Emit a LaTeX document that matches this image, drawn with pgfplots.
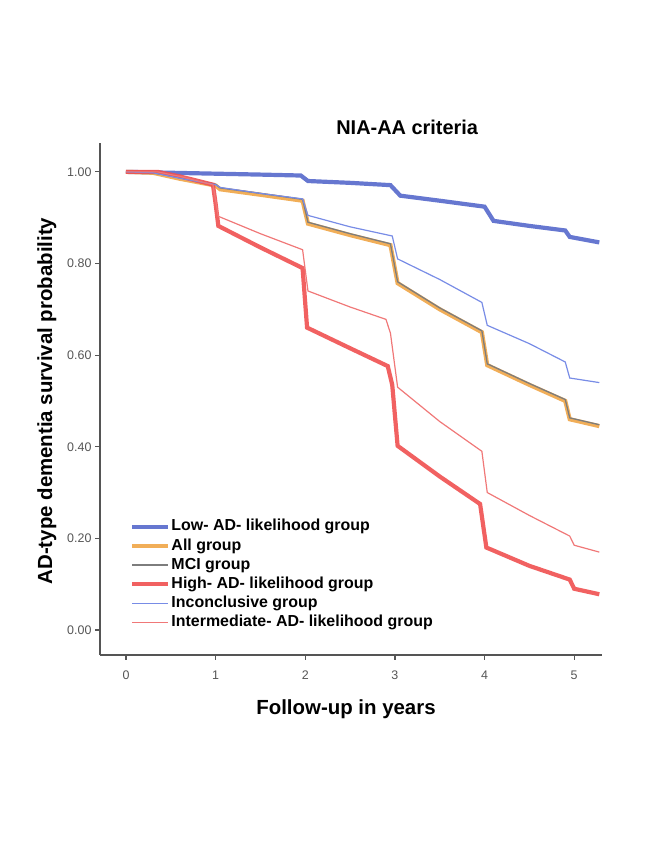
\documentclass[border=0pt]{standalone}
\usepackage{fontspec}
\setmainfont{Liberation Sans}
\usepackage{pgfplots}
\pgfplotsset{compat=1.18}
\definecolor{cLow}{RGB}{75,95,200}
\definecolor{cAll}{RGB}{240,165,70}
\definecolor{cMCI}{RGB}{125,125,125}
\definecolor{cHigh}{RGB}{240,80,80}
\definecolor{cInc}{RGB}{120,140,230}
\definecolor{cInt}{RGB}{240,120,120}
\definecolor{axgray}{RGB}{85,85,85}
\begin{document}
\begin{tikzpicture}
\path[use as bounding box] (0,0) rectangle (656bp,852bp);
\begin{axis}[
  at={(100bp,197bp)}, anchor=south west,
  scale only axis, width=502bp, height=512bp,
  xmin=-0.29, xmax=5.31, ymin=-0.0546, ymax=1.063,
  axis x line=bottom, axis y line=left,
  axis line style={-, axgray, line width=1.6bp},
  xtick={0,1,2,3,4,5},
  ytick={0,0.2,0.4,0.6,0.8,1},
  yticklabel style={/pgf/number format/.cd, fixed, fixed zerofill, precision=2},
  xticklabel style={yshift=-7bp},
  /pgf/number format/assume math mode=true,
  tick align=outside, major tick length=5bp,
  tick style={axgray, line width=1.2bp},
  tick label style={font=\fontsize{12.5}{15}\selectfont, text=axgray},
  title={NIA-AA criteria},
  title style={at={(0.612,1.018)}, anchor=center, font=\fontsize{20}{24}\selectfont\bfseries},
  xlabel={Follow-up in years},
  xlabel style={at={(0.49,-0.105)}, anchor=center, font=\fontsize{20.5}{24}\selectfont\bfseries},
  ylabel={AD-type dementia survival probability},
  ylabel style={at={(-0.106,0.496)}, anchor=center, rotate=0, font=\fontsize{20.5}{24}\selectfont\bfseries},
  legend style={at={(0.054,0.272)}, anchor=north west, draw=none, fill=none,
    font=\fontsize{16}{19}\selectfont\bfseries, row sep=1.7bp,
    nodes={inner sep=1bp, text height=12bp, text depth=3.5bp}},
  legend cell align=left,
  legend image code/.code={\draw[#1] (0bp,0bp) -- (36bp,0bp);},
]
% Low-AD-likelihood group
\addplot[cLow, line width=4.2bp, opacity=0.85] coordinates {
(0,1.000) (0.5,0.998) (1.0,0.996) (1.5,0.994) (1.95,0.992) (2.03,0.980) (2.5,0.976)
(2.95,0.971) (3.06,0.948) (3.5,0.937) (4.0,0.924) (4.1,0.893) (4.5,0.882) (4.9,0.872)
(4.95,0.858) (5.28,0.846)};
\addlegendentry{Low- AD- likelihood group}
% All group
\addplot[cAll, line width=4.2bp, opacity=0.9] coordinates {
(0,1.0) (0.3,0.998) (0.6,0.985) (1.0,0.970) (1.05,0.962) (1.5,0.950) (1.97,0.937)
(2.03,0.887) (2.5,0.862) (2.95,0.840) (3.03,0.757) (3.5,0.700) (3.97,0.650) (4.03,0.578)
(4.5,0.535) (4.9,0.500) (4.95,0.460) (5.28,0.445)};
\addlegendentry{All group}
% MCI group
\addplot[cMCI, line width=1.3bp] coordinates {
(0,1.0) (0.3,0.998) (0.6,0.987) (1.0,0.973) (1.05,0.965) (1.5,0.953) (1.97,0.940)
(2.03,0.890) (2.5,0.865) (2.95,0.843) (3.03,0.760) (3.5,0.703) (3.97,0.653) (4.03,0.581)
(4.5,0.538) (4.9,0.503) (4.95,0.463) (5.28,0.448)};
\addlegendentry{MCI group}
% High-AD-likelihood group
\addplot[cHigh, line width=4.2bp, opacity=0.9] coordinates {
(0,1.0) (0.35,1.0) (0.6,0.99) (0.97,0.972) (1.0,0.930) (1.03,0.882) (1.5,0.835)
(1.97,0.790) (2.02,0.660) (2.5,0.615) (2.92,0.576) (2.97,0.535) (3.03,0.402) (3.5,0.335)
(3.95,0.275) (4.02,0.180) (4.5,0.140) (4.95,0.110) (5.0,0.090) (5.28,0.078)};
\addlegendentry{High- AD- likelihood group}
% Inconclusive group
\addplot[cInc, line width=1.2bp] coordinates {
(0,1.0) (0.3,0.998) (0.6,0.986) (1.0,0.972) (1.05,0.966) (1.5,0.953) (1.97,0.941)
(2.03,0.905) (2.5,0.880) (2.97,0.860) (3.03,0.810) (3.5,0.765) (3.97,0.715) (4.03,0.665)
(4.5,0.625) (4.9,0.585) (4.95,0.550) (5.28,0.540)};
\addlegendentry{Inconclusive group}
% Intermediate-AD-likelihood group
\addplot[cInt, line width=1.2bp] coordinates {
(0,1.0) (0.35,1.0) (0.6,0.99) (0.97,0.972) (1.03,0.903) (1.5,0.865) (1.97,0.830)
(2.03,0.740) (2.5,0.705) (2.9,0.678) (2.95,0.648) (3.03,0.530) (3.5,0.455) (3.97,0.390)
(4.03,0.300) (4.5,0.250) (4.95,0.205) (5.0,0.185) (5.28,0.170)};
\addlegendentry{Intermediate- AD- likelihood group}
\end{axis}
\end{tikzpicture}
\end{document}
